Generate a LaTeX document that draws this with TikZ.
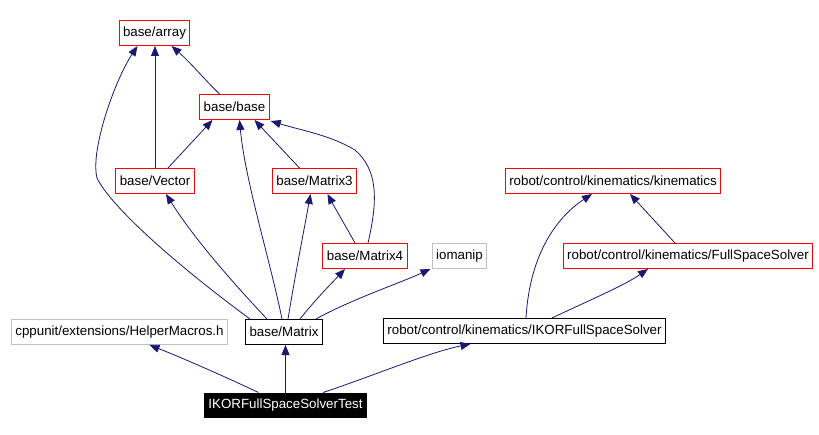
\documentclass[tikz,border=0pt]{standalone}
\usepackage{fontspec}
\setmainfont{Liberation Sans}
\usetikzlibrary{arrows.meta,calc}
\definecolor{EdgeBlue}{HTML}{191970}
\definecolor{IncRed}{HTML}{FF0000}
\definecolor{SysGray}{HTML}{BFBFBF}

\begin{document}
\begin{tikzpicture}[x=0.75pt,y=-0.75pt,
  file/.style={draw,line width=0.75pt,minimum height=18.75pt,inner xsep=3pt,inner ysep=0pt,font=\fontsize{10}{12}\selectfont},
  found/.style={file,draw=black},
  incl/.style={file,draw=IncRed},
  sys/.style={file,draw=SysGray},
  self/.style={file,draw=black,fill=black,text=white,minimum height=18pt},
  dep/.style={EdgeBlue,line width=0.6pt,-{Triangle[length=7.5pt,width=6pt]}}]
  \useasboundingbox (0,0) rectangle (819,435);
  \node[incl] (arr) at (154.5,33) {base/array};
  \node[incl] (bas) at (234.5,107) {base/base};
  \node[incl] (vec) at (155,181) {base/Vector};
  \node[incl] (m3) at (314.5,181) {base/Matrix3};
  \node[incl] (m4) at (365,256) {base/Matrix4};
  \node[sys] (iom) at (459.5,256) {iomanip};
  \node[sys] (hlp) at (119.5,332) {cppunit/extensions/HelperMacros.h};
  \node[found] (mtx) at (284,332) {base/Matrix};
  \node[self] (tst) at (285.5,405) {IKORFullSpaceSolverTest};
  \node[incl] (kin) at (613,181) {robot/control/kinematics/kinematics};
  \node[incl] (fss) at (688,256) {robot/control/kinematics/FullSpaceSolver};
  \node[found] (ikr) at (524.5,331) {robot/control/kinematics/IKORFullSpaceSolver};
  \draw[dep] ($(tst.north)+(-27,0)$) .. controls (215,372) and (175,355) .. ($(hlp.south)+(30,0)$);
  \draw[dep] (tst.north) -- (tst.north |- mtx.south);
  \draw[dep] ($(tst.north)+(37.5,0)$) .. controls (370,377) and (430,352) .. ($(ikr.south)+(-54,0)$);
  \draw[dep] ($(mtx.north)+(-34,0)$) .. controls (170,260) and (110,205) .. (97,178) .. controls (90,150) and (115,80) .. ($(arr.south)+(-17,0)$);
  \draw[dep] ($(mtx.north)+(-17,0)$) .. controls (235,285) and (195,240) .. ($(vec.south)+(11,0)$);
  \draw[dep] ($(mtx.north)+(-2,0)$) .. controls (270,260) and (245,180) .. ($(bas.south)+(5,0)$);
  \draw[dep] ($(mtx.north)+(4,0)$) .. controls (296,270) and (305,225) .. ($(m3.south)+(-4,0)$);
  \draw[dep] ($(mtx.north)+(16,0)$) .. controls (315,300) and (330,285) .. ($(m4.south)+(-20,0)$);
  \draw[dep] ($(mtx.north)+(32,0)$) .. controls (350,300) and (400,283) .. ($(iom.south)+(-29,0)$);
  \draw[dep] (vec.north) -- (vec.north |- arr.south);
  \draw[dep] ($(vec.north)+(13,0)$) -- ($(bas.south)+(-22,0)$);
  \draw[dep] ($(bas.north)+(-15,0)$) .. controls (205,80) and (190,62) .. ($(arr.south)+(17,0)$);
  \draw[dep] ($(m3.north)+(-15,0)$) -- ($(bas.south)+(20,0)$);
  \draw[dep] ($(m4.north)+(-10,0)$) .. controls (345,225) and (335,208) .. ($(m3.south)+(13,0)$);
  \draw[dep] ($(m4.north)+(3,0)$) .. controls (378,200) and (378,170) .. (355,150) .. controls (330,135) and (300,130) .. ($(bas.south east)+(1,1)$);
  \draw[dep] ($(ikr.north)+(1.5,0)$) .. controls (530,250) and (560,215) .. ($(kin.south)+(-21,0)$);
  \draw[dep] ($(ikr.north)+(27.5,0)$) .. controls (590,300) and (625,285) .. ($(fss.south)+(-40,0)$);
  \draw[dep] ($(fss.north)+(-13,0)$) -- ($(kin.south)+(17,0)$);
\end{tikzpicture}
\end{document}
